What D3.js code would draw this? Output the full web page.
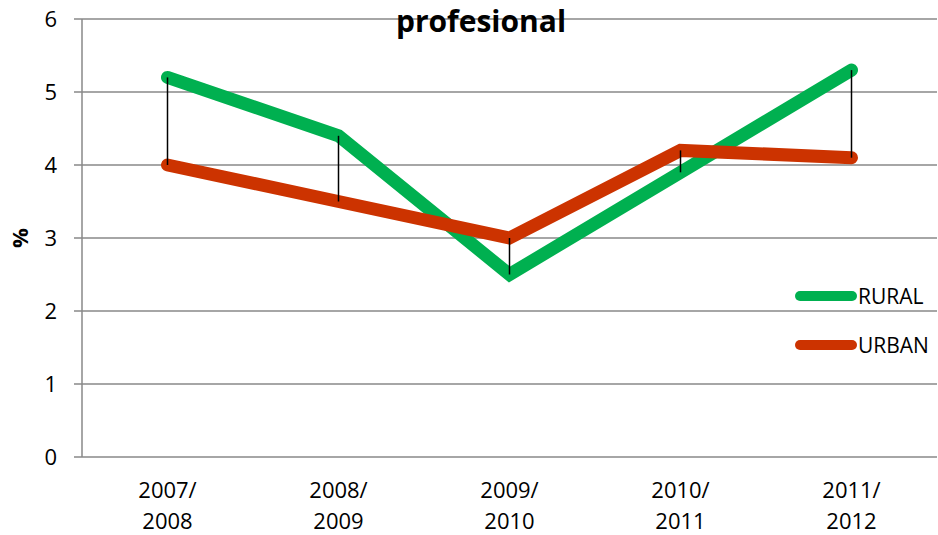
<!DOCTYPE html>
<html><head><meta charset="utf-8">
<script src="https://cdn.jsdelivr.net/npm/d3@7"></script>
<style>body{margin:0;background:#fff;}svg{display:block;}text{font-family:"Open Sans","Noto Sans",sans-serif;}</style>
</head><body>
<svg id="c" width="938" height="535"></svg>
<script>
const categories = [["2007/","2008"],["2008/","2009"],["2009/","2010"],["2010/","2011"],["2011/","2012"]];
const rural = [5.2, 4.4, 2.5, 3.9, 5.3];
const urban = [4.0, 3.5, 3.0, 4.2, 4.1];
const yTicks = [0,1,2,3,4,5,6];
const seriesNames = ["RURAL","URBAN"];
const colors = ["#00b050","#cc3300"];

(function(){
const svg = d3.select("#c");
const mLeft = 82, mRight = 937, mTop = 19, mBottom = 457;
const x = d3.scaleBand().domain(d3.range(categories.length)).range([mLeft, mRight]);
const y = d3.scaleLinear().domain([0,6]).range([mBottom, mTop]);
const cx = i => x(i) + x.bandwidth()/2;

// gridlines
svg.append("g").selectAll("line").data(yTicks).join("line")
  .attr("x1", mLeft-8).attr("x2", mRight).attr("y1", d=>y(d)).attr("y2", d=>y(d))
  .attr("stroke","#898989").attr("stroke-width",1.5);
svg.append("line").attr("x1",mLeft).attr("x2",mLeft).attr("y1",mTop).attr("y2",mBottom)
  .attr("stroke","#898989").attr("stroke-width",1.5);
// y labels
svg.append("g").selectAll("text").data(yTicks).join("text")
  .attr("x", 57).attr("y", d=>y(d)).attr("dy","0.36em").attr("text-anchor","end")
  .attr("font-size",22).attr("fill","#000").text(d=>d);
// x labels
const xl = svg.append("g").selectAll("text").data(categories).join("text")
  .attr("text-anchor","middle").attr("font-size",22).attr("fill","#000");
xl.each(function(d,i){
  const t = d3.select(this);
  d.forEach((s,k)=>t.append("tspan").attr("x",cx(i)).attr("y",498+k*31).text(s));
});
// y axis title
svg.append("text").attr("transform","translate(20,238) rotate(-90)").attr("text-anchor","middle")
  .attr("dy","0.36em").attr("font-size",22).attr("font-weight","bold").text("%");

// lines
const line = d3.line().x((d,i)=>cx(i)).y(d=>y(d));
[rural, urban].forEach((s,k)=>{
  svg.append("path").attr("d", line(s)).attr("fill","none").attr("stroke",colors[k])
    .attr("stroke-width",13).attr("stroke-linecap","round").attr("stroke-linejoin","miter");
});
// high-low lines
svg.append("g").selectAll("line").data(rural).join("line")
  .attr("x1",(d,i)=>cx(i)).attr("x2",(d,i)=>cx(i))
  .attr("y1",(d,i)=>y(Math.max(d,urban[i]))).attr("y2",(d,i)=>y(Math.min(d,urban[i])))
  .attr("stroke","#000").attr("stroke-width",1.5);

// title
svg.append("text").attr("x",481).attr("y",32).attr("text-anchor","middle")
  .attr("font-size",30).attr("font-weight","bold").attr("fill","#000").text("profesional");

// legend
seriesNames.forEach((n,k)=>{
  const ly = 296 + k*49;
  svg.append("line").attr("x1",800).attr("x2",852).attr("y1",ly).attr("y2",ly)
    .attr("stroke",colors[k]).attr("stroke-width",10).attr("stroke-linecap","round");
  svg.append("text").attr("x",858).attr("y",ly).attr("dy","0.36em").attr("font-size",21)
    .attr("fill","#000").text(n);
});
})();
</script>
</body></html>
